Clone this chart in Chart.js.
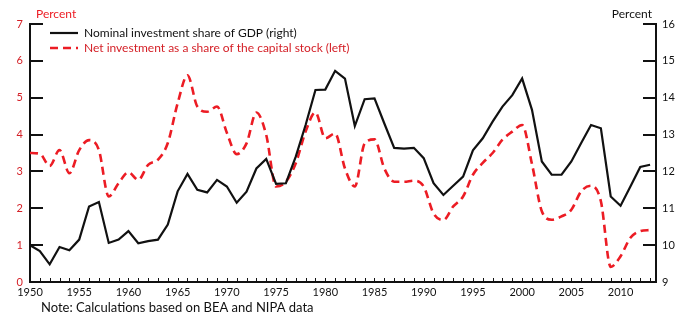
<!DOCTYPE html>
<html>
<head>
<meta charset="utf-8">
<script src="https://cdn.jsdelivr.net/npm/chart.js@4.4.1/dist/chart.umd.min.js"></script>
<style>
  html, body { margin: 0; padding: 0; background: #fff; }
  #wrap { width: 690px; height: 321px; position: relative; }
</style>
</head>
<body>
<div id="wrap"><canvas id="invest-chart"></canvas></div>
<script>
// years on the x axis
const years = [1950, 1951, 1952, 1953, 1954, 1955, 1956, 1957, 1958, 1959,
  1960, 1961, 1962, 1963, 1964, 1965, 1966, 1967, 1968, 1969,
  1970, 1971, 1972, 1973, 1974, 1975, 1976, 1977, 1978, 1979,
  1980, 1981, 1982, 1983, 1984, 1985, 1986, 1987, 1988, 1989,
  1990, 1991, 1992, 1993, 1994, 1995, 1996, 1997, 1998, 1999,
  2000, 2001, 2002, 2003, 2004, 2005, 2006, 2007, 2008, 2009,
  2010, 2011, 2012, 2013];

// nominal investment share of GDP, percent (right axis)
const nominalShare = [10.0, 9.84, 9.48, 9.95, 9.86, 10.15, 11.05, 11.17, 10.06, 10.15,
  10.38, 10.05, 10.11, 10.15, 10.56, 11.46, 11.93, 11.5, 11.43, 11.77,
  11.59, 11.15, 11.45, 12.08, 12.34, 11.66, 11.68, 12.4, 13.26, 14.21,
  14.22, 14.73, 14.52, 13.23, 13.96, 13.98, 13.3, 12.64, 12.62, 12.64,
  12.36, 11.68, 11.36, 11.61, 11.86, 12.57, 12.9, 13.35, 13.76, 14.07,
  14.52, 13.67, 12.27, 11.91, 11.91, 12.27, 12.77, 13.26, 13.17, 11.32,
  11.07, 11.59, 12.12, 12.18];

// net investment as a share of the capital stock, percent (left axis)
const netInvestment = [3.5, 3.48, 3.15, 3.58, 2.95, 3.58, 3.85, 3.58, 2.32, 2.68,
  2.98, 2.77, 3.18, 3.32, 3.77, 4.85, 5.61, 4.76, 4.62, 4.76,
  4.05, 3.47, 3.76, 4.6, 3.99, 2.59, 2.72, 3.22, 4.08, 4.6,
  3.9, 4.03, 3.08, 2.59, 3.76, 3.87, 3.08, 2.72, 2.72, 2.75,
  2.59, 1.86, 1.68, 2.05, 2.32, 2.91, 3.23, 3.5, 3.86, 4.08,
  4.26, 3.2, 1.92, 1.69, 1.78, 1.96, 2.46, 2.61, 2.19, 0.41,
  0.7, 1.2, 1.38, 1.41];

const leftTicks = [0, 1, 2, 3, 4, 5, 6, 7];
const rightTicks = [9, 10, 11, 12, 13, 14, 15, 16];
const xLabels = [1950, 1955, 1960, 1965, 1970, 1975, 1980, 1985, 1990, 1995, 2000, 2005, 2010];

const RED = '#ec1c24';
const RED_TEXT = '#d41f26';
const FONT = 'Lato';

// inward tick marks on the axes
const innerTicks = {
  id: 'innerTicks',
  afterDatasetsDraw(chart) {
    const ctx = chart.ctx;
    const area = chart.chartArea;
    const x = chart.scales.x, y = chart.scales.y, y2 = chart.scales.y2;
    ctx.save();
    ctx.strokeStyle = '#111';
    ctx.lineWidth = 2;
    leftTicks.forEach(v => {
      if (v === 0) return;
      const py = Math.round(y.getPixelForValue(v));
      ctx.beginPath(); ctx.moveTo(area.left, py); ctx.lineTo(area.left + 13, py); ctx.stroke();
    });
    rightTicks.forEach(v => {
      if (v === 9) return;
      const py = Math.round(y2.getPixelForValue(v));
      ctx.beginPath(); ctx.moveTo(area.right, py); ctx.lineTo(area.right - 13, py); ctx.stroke();
    });
    ctx.lineWidth = 1;
    years.forEach(yr => {
      if (yr === 1950) return;
      const px = Math.round(x.getPixelForValue(yr)) + 0.5;
      ctx.beginPath(); ctx.moveTo(px, area.bottom); ctx.lineTo(px, area.bottom - 4); ctx.stroke();
    });
    ctx.restore();
  }
};

// "Percent" headers and the note under the chart
const extraText = {
  id: 'extraText',
  afterDraw(chart) {
    const ctx = chart.ctx;
    ctx.save();
    ctx.textBaseline = 'middle';
    ctx.font = '12px ' + FONT;
    ctx.fillStyle = RED;
    ctx.textAlign = 'left';
    ctx.fillText('Percent', 36, 14);
    ctx.fillStyle = '#111';
    ctx.textAlign = 'right';
    ctx.fillText('Percent', 652, 14);
    ctx.font = '13px ' + FONT;
    ctx.textAlign = 'left';
    ctx.fillText('Note: Calculations based on BEA and NIPA data', 41, 308);
    ctx.restore();
  }
};

// move the legend inside the plot, in from the left axis
const legendShift = {
  id: 'legendShift',
  afterLayout(chart) {
    if (!chart.legend) return;
    chart.legend.left = chart.chartArea.left + 17;
    chart.legend.top = chart.chartArea.top;
  }
};

let ctx = document.getElementById('invest-chart').getContext('2d');

let investChart = new Chart(ctx, {
  type: 'line',
  data: {
    datasets: [{
      label: 'Nominal investment share of GDP (right)',
      data: years.map((yr, i) => ({x: yr, y: nominalShare[i]})),
      yAxisID: 'y2',
      borderColor: '#111',
      borderWidth: 2.2,
      pointRadius: 0,
      tension: 0
    }, {
      label: 'Net investment as a share of the capital stock (left)',
      data: years.map((yr, i) => ({x: yr, y: netInvestment[i]})),
      yAxisID: 'y',
      borderColor: RED,
      borderWidth: 2.6,
      borderDash: [8, 5],
      pointRadius: 0,
      cubicInterpolationMode: 'monotone'
    }]
  },
  options: {
    responsive: true,
    maintainAspectRatio: false,
    animation: false,
    layout: { padding: { top: 24, left: 0, right: 0, bottom: 0 } },
    plugins: {
      tooltip: { enabled: false },
      legend: {
        position: 'chartArea',
        align: 'start',
        labels: {
          usePointStyle: true,
          pointStyleWidth: 28,
          padding: 3,
          font: { family: FONT, size: 12 },
          generateLabels(chart) {
            return chart.data.datasets.map((ds, i) => ({
              text: ds.label,
              fontColor: i === 0 ? '#111' : RED_TEXT,
              strokeStyle: ds.borderColor,
              fillStyle: ds.borderColor,
              lineWidth: ds.borderWidth,
              lineDash: ds.borderDash || [],
              pointStyle: 'line',
              hidden: false,
              datasetIndex: i
            }));
          }
        }
      }
    },
    scales: {
      x: {
        type: 'linear',
        min: 1950,
        max: 2013.6,
        afterFit: (scale) => { scale.height = 39; },
        afterBuildTicks: (scale) => { scale.ticks = xLabels.map(v => ({value: v})); },
        grid: { drawOnChartArea: false, drawTicks: false },
        border: { display: true, color: '#111', width: 2 },
        ticks: {
          autoSkip: false,
          maxRotation: 0,
          padding: 4,
          color: '#111',
          font: { family: FONT, size: 11 },
          callback: (v) => String(v)
        }
      },
      y: {
        position: 'left',
        min: 0,
        max: 7,
        afterFit: (scale) => { scale.width = 30; },
        afterBuildTicks: (scale) => { scale.ticks = leftTicks.map(v => ({value: v})); },
        grid: { drawOnChartArea: false, drawTicks: false },
        border: { display: true, color: '#111', width: 2 },
        ticks: {
          padding: 7,
          color: RED_TEXT,
          font: { family: FONT, size: 11 }
        }
      },
      y2: {
        position: 'right',
        min: 9,
        max: 16,
        afterFit: (scale) => { scale.width = 34; },
        afterBuildTicks: (scale) => { scale.ticks = rightTicks.map(v => ({value: v})); },
        grid: { drawOnChartArea: false, drawTicks: false },
        border: { display: true, color: '#111', width: 2 },
        ticks: {
          padding: 6,
          color: '#111',
          font: { family: FONT, size: 11 }
        }
      }
    }
  },
  plugins: [innerTicks, extraText, legendShift]
});
</script>
</body>
</html>
